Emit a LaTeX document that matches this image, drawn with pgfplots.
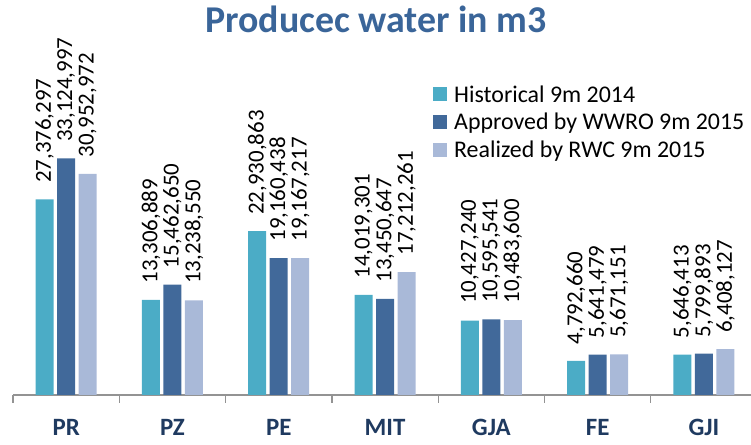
\documentclass[border=0pt]{standalone}
\usepackage{pgfplots}
\pgfplotsset{compat=1.18}
\usepackage{pgfplotstable}
\usepackage{fontspec}
\setmainfont{Carlito}

\definecolor{histc}{HTML}{4BACC6}
\definecolor{apprc}{HTML}{41699A}
\definecolor{realc}{HTML}{A9B9D8}
\definecolor{titlec}{HTML}{3A6599}
\definecolor{catc}{HTML}{1F3A60}

% x = category index, labels kept beside the numbers
\pgfplotstableread{
x hist histL appr apprL real realL
0 27376297 27,376,297 33124997 33,124,997 30952972 30,952,972
1 13306889 13,306,889 15462650 15,462,650 13238550 13,238,550
2 22930863 22,930,863 19160438 19,160,438 19167217 19,167,217
3 14019301 14,019,301 13450647 13,450,647 17212261 17,212,261
4 10427240 10,427,240 10595541 10,595,541 10483600 10,483,600
5 4792660 4,792,660 5641479 5,641,479 5671151 5,671,151
6 5646413 5,646,413 5799893 5,799,893 6408127 6,408,127
}\datatable

\begin{document}
\begin{tikzpicture}
\begin{axis}[
    scale only axis,
    width=738bp, height=250bp,
    xmin=-0.5, xmax=6.443,
    ymin=0, ymax=35000000,
    axis x line=bottom,
    axis y line=none,
    x axis line style={-, gray!85, line width=1.3bp},
    ybar=3.5bp,
    bar width=18bp,
    xtick={0,...,6},
    xticklabels={PR,PZ,PE,MIT,GJA,FE,GJI},
    major tick length=0bp,
    xticklabel style={font=\fontsize{25}{25}\selectfont\bfseries, text=catc, anchor=base, yshift=-41bp},
    extra x ticks={-0.5,0.5,1.5,2.5,3.5,4.5,5.5},
    extra x tick labels={},
    extra x tick style={major tick length=8bp, tick align=outside,
        tick style={gray!85, line width=1.3bp}},
    point meta=explicit symbolic,
    nodes near coords={\pgfplotspointmeta},
    every node near coord/.append style={rotate=90, anchor=west,
        font=\fontsize{23}{23}\selectfont, text=black, xshift=13bp},
    clip=false,
    title={Producec water in m3},
    title style={font=\fontsize{38}{38}\selectfont\bfseries, text=titlec,
        at={(0.492,1.48)}, anchor=center},
    legend style={draw=none, fill=none, at={(0.565,1.255)}, anchor=north west,
        font=\fontsize{24}{24}\selectfont, row sep=5.5bp},
    legend cell align=left,
    leg/.style={legend image code/.code={\fill[##1] (0bp,-7bp) rectangle (14bp,7bp); \path (19bp,0bp);}},
]
\addplot[fill=histc, draw=none, leg] table[x=x, y=hist, meta=histL] {\datatable};
\addplot[fill=apprc, draw=none, leg] table[x=x, y=appr, meta=apprL] {\datatable};
\addplot[fill=realc, draw=none, leg] table[x=x, y=real, meta=realL] {\datatable};
\legend{Historical 9m 2014, Approved by WWRO 9m 2015, Realized by RWC 9m 2015}
\end{axis}
\pgfresetboundingbox
\path[use as bounding box] ([xshift=-13bp,yshift=-50bp]current axis.south west)
    rectangle ([xshift=0bp,yshift=145bp]current axis.north east);
\end{tikzpicture}
\end{document}
